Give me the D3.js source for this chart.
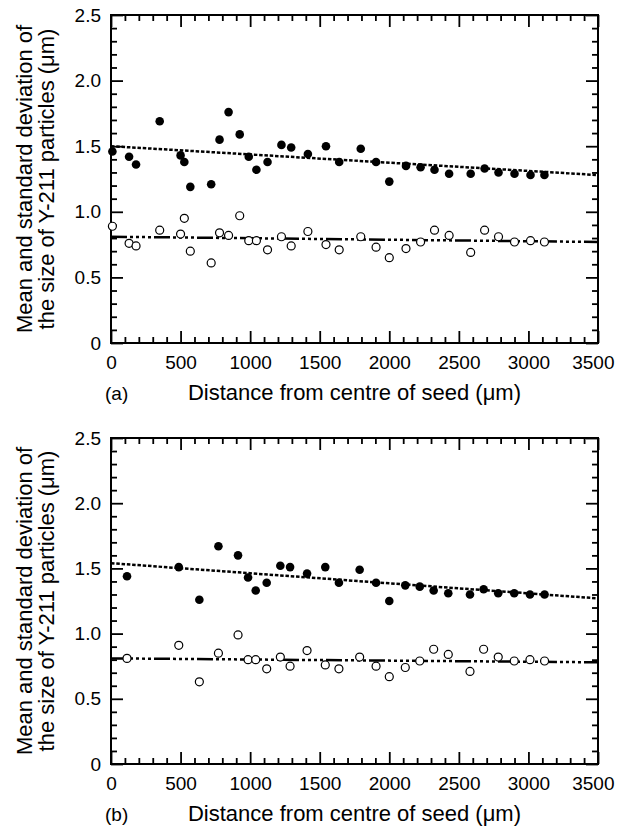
<!DOCTYPE html>
<html>
<head>
<meta charset="utf-8">
<script src="https://cdn.jsdelivr.net/npm/d3@7"></script>
<style>
  body { margin: 0; background: #fff; }
  svg { display: block; font-family: "Liberation Sans", Arial, Helvetica, sans-serif; }
</style>
</head>
<body>
<div id="chart"></div>
<script>
// panel (a)
var distA = [10, 130, 180, 350, 500, 527, 570, 720, 780, 845, 925, 990, 1045, 1125, 1225, 1295, 1415,
    1545, 1640, 1795, 1905, 2000, 2120, 2225, 2325, 2430, 2585, 2685, 2785, 2900, 3015, 3115];
var meanA = [1.46, 1.42, 1.36, 1.69, 1.43, 1.38, 1.19, 1.21, 1.55, 1.76, 1.59, 1.42, 1.32, 1.38, 1.51, 1.49, 1.44,
    1.50, 1.38, 1.48, 1.38, 1.23, 1.35, 1.34, 1.32, 1.29, 1.29, 1.33, 1.30, 1.29, 1.28, 1.28];
var sdA = [0.89, 0.76, 0.74, 0.86, 0.83, 0.95, 0.70, 0.61, 0.84, 0.82, 0.97, 0.78, 0.78, 0.71, 0.81, 0.74, 0.85,
    0.75, 0.71, 0.81, 0.73, 0.65, 0.72, 0.77, 0.86, 0.82, 0.69, 0.86, 0.81, 0.77, 0.78, 0.77];
var fitMeanA = [[0, 1.50], [3500, 1.28]];
var fitSdA = [[0, 0.81], [3500, 0.77]];

// panel (b)
var distB = [115, 487, 635, 772, 913, 985, 1040, 1119, 1217, 1287, 1409, 1540, 1638,
    1787, 1905, 2000, 2115, 2219, 2319, 2424, 2580, 2678, 2783, 2898, 3011, 3116];
var meanB = [1.44, 1.51, 1.26, 1.67, 1.60, 1.43, 1.33, 1.39, 1.52, 1.51, 1.46, 1.51, 1.39,
    1.49, 1.39, 1.25, 1.37, 1.36, 1.33, 1.31, 1.30, 1.34, 1.31, 1.31, 1.30, 1.30];
var sdB = [0.81, 0.91, 0.63, 0.85, 0.99, 0.80, 0.80, 0.73, 0.82, 0.75, 0.87, 0.76, 0.73,
    0.82, 0.75, 0.67, 0.74, 0.79, 0.88, 0.84, 0.71, 0.88, 0.82, 0.79, 0.80, 0.79];
var fitMeanB = [[0, 1.54], [3500, 1.27]];
var fitSdB = [[0, 0.81], [3500, 0.78]];

var xMajor = [0, 500, 1000, 1500, 2000, 2500, 3000, 3500];
var yMajor = [0, 0.5, 1.0, 1.5, 2.0, 2.5];
var yLabels = ["0", "0.5", "1.0", "1.5", "2.0", "2.5"];
var xTitle = "Distance from centre of seed (\u03bcm)";
var yTitle = ["Mean and standard deviation of", "the size of Y-211 particles (\u03bcm)"];

var svg = d3.select("#chart").append("svg")
    .attr("width", 618)
    .attr("height", 833);

function panel(top, height, tag, dist, mean, sd, fitMean, fitSd) {
    var left = 111, width = 487;
    var g = svg.append("g").attr("transform", "translate(" + left + "," + top + ")");

    var x = d3.scaleLinear().domain([0, 3500]).range([0, width]);
    var y = d3.scaleLinear().domain([0, 2.5]).range([height, 0]);

    var xMinor = d3.range(0, 3501, 100).filter(v => v % 500 != 0);
    var yMinor = d3.range(0, 26).map(v => v / 10).filter(v => Math.round(v * 10) % 5 != 0);

    // minor ticks, all sides, pointing in
    g.append("g").attr("transform", "translate(0," + height + ")")
        .call(d3.axisBottom(x).tickValues(xMinor).tickSize(-6).tickSizeOuter(0).tickFormat(""));
    g.append("g")
        .call(d3.axisTop(x).tickValues(xMinor).tickSize(-6).tickSizeOuter(0).tickFormat(""));
    g.append("g")
        .call(d3.axisLeft(y).tickValues(yMinor).tickSize(-6).tickSizeOuter(0).tickFormat(""));
    g.append("g").attr("transform", "translate(" + width + ",0)")
        .call(d3.axisRight(y).tickValues(yMinor).tickSize(-6).tickSizeOuter(0).tickFormat(""));

    // major ticks
    var xAxis = g.append("g").attr("class", "lab").attr("transform", "translate(0," + height + ")")
        .call(d3.axisBottom(x).tickValues(xMajor).tickSize(-12).tickSizeOuter(0).tickPadding(13)
            .tickFormat(d3.format("d")));
    g.append("g")
        .call(d3.axisTop(x).tickValues(xMajor).tickSize(-12).tickSizeOuter(0).tickFormat(""));
    g.append("g").attr("class", "lab")
        .call(d3.axisLeft(y).tickValues(yMajor).tickSize(-12).tickSizeOuter(0).tickPadding(10)
            .tickFormat((d, i) => yLabels[i]));
    g.append("g").attr("transform", "translate(" + width + ",0)")
        .call(d3.axisRight(y).tickValues(yMajor).tickSize(-12).tickSizeOuter(0).tickFormat(""));

    g.selectAll(".domain").remove();
    g.selectAll(".tick line").attr("stroke", "#000").attr("stroke-width", 1.8);
    g.selectAll(".lab .tick text")
        .attr("fill", "#000")
        .style("font-size", "19px");
    // last label sits against the page edge
    xAxis.selectAll(".tick text").filter(d => d == 3500)
        .attr("text-anchor", "end")
        .attr("x", 16);

    // frame
    g.append("rect")
        .attr("width", width)
        .attr("height", height)
        .attr("fill", "none")
        .attr("stroke", "#000")
        .attr("stroke-width", 2);

    var line = d3.line().x(d => x(d[0])).y(d => y(d[1]));

    g.append("path").datum(fitMean)
        .attr("d", line)
        .attr("fill", "none")
        .attr("stroke", "#000")
        .attr("stroke-width", 2.5)
        .attr("stroke-dasharray", "3.5,1.8");

    g.append("path").datum(fitSd)
        .attr("d", line)
        .attr("fill", "none")
        .attr("stroke", "#000")
        .attr("stroke-width", 2.5)
        .attr("stroke-dasharray", "16,3,3,3,3,3,3,3,3,3");

    g.append("g").selectAll("circle").data(dist)
        .enter().append("circle")
        .attr("cx", d => x(d))
        .attr("cy", (d, i) => y(sd[i]))
        .attr("r", 4)
        .attr("fill", "#fff")
        .attr("stroke", "#000")
        .attr("stroke-width", 1.2);

    g.append("g").selectAll("circle").data(dist)
        .enter().append("circle")
        .attr("cx", d => x(d))
        .attr("cy", (d, i) => y(mean[i]))
        .attr("r", 4.3)
        .attr("fill", "#000");

    // axis titles
    g.append("text")
        .attr("x", width / 2)
        .attr("y", height + 57)
        .attr("text-anchor", "middle")
        .style("font-size", "22px")
        .text(xTitle);

    g.append("text")
        .attr("x", -6)
        .attr("y", height + 57)
        .style("font-size", "19px")
        .text(tag);

    yTitle.forEach(function(t, i) {
        g.append("text")
            .attr("transform", "translate(" + (-left + 32 + i * 22) + "," + (height / 2) + ") rotate(-90)")
            .attr("text-anchor", "middle")
            .style("font-size", "22px")
            .text(t);
    });
}

panel(15, 328, "(a)", distA, meanA, sdA, fitMeanA, fitSdA);
panel(438, 326, "(b)", distB, meanB, sdB, fitMeanB, fitSdB);
</script>
</body>
</html>
